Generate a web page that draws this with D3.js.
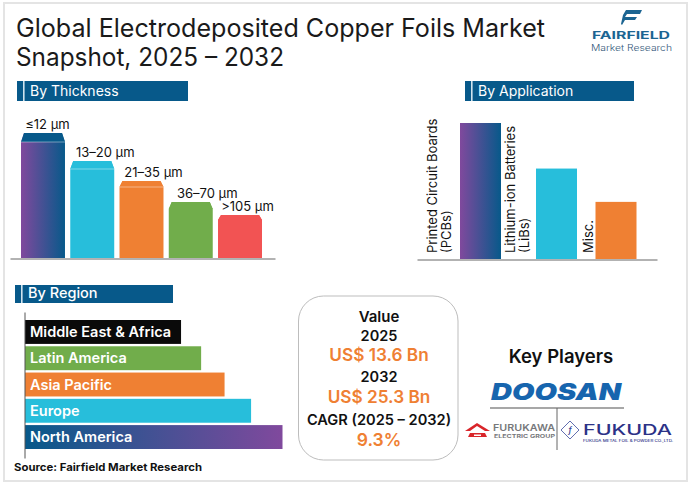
<!DOCTYPE html>
<html lang="en">
<head>
    <meta charset="UTF-8">
    <title>Electrodeposited Copper Foils Market Snapshot</title>
    <script src="https://cdnjs.cloudflare.com/ajax/libs/d3/7.8.5/d3.min.js"></script>
    <style>
        html, body { margin: 0; padding: 0; background: #fff; }
        svg { display: block; }
        text { font-family: Inter, "Open Sans", sans-serif; }
    </style>
</head>
<body>

<script>

    var titleLines = ["Global Electrodeposited Copper Foils Market", "Snapshot, 2025 \u2013 2032"];

    //Bars have no axis in the picture, so values are relative to the tallest bar (100)
    var thicknessCats = ["\u226412 \u00b5m", "13\u201320 \u00b5m", "21\u201335 \u00b5m", "36\u201370 \u00b5m", ">105 \u00b5m"];
    var thicknessVals = [100, 77.6, 61.6, 44.8, 34.4];

    var applicationCats = [["Printed Circuit Boards", "(PCBs)"], ["Lithium-ion Batteries", "(LiBs)"], ["Misc."]];
    var applicationVals = [100, 66.5, 42];

    var regionCats = ["Middle East & Africa", "Latin America", "Asia Pacific", "Europe", "North America"];
    var regionVals = [60.6, 68.4, 77.5, 87.8, 100];

    var valueLines = ["Value", "2025", "US$ 13.6 Bn", "2032", "US$ 25.3 Bn", "CAGR (2025 \u2013 2032)", "9.3%"];

    var width = 691, height = 485;
    var blue = "#07598a", cyan = "#27bedb", orange = "#ef8033", green = "#71ad4b", red = "#f25353", ink = "#111";

    var svg = d3.select("body").append("svg")
            .attr("width", width)
            .attr("height", height);

    //Gradients for the two purple/blue bars
    var defs = svg.append("defs");
    function gradient(id, from, to) {
        var g = defs.append("linearGradient").attr("id", id);
        g.append("stop").attr("offset", "0%").attr("stop-color", from);
        g.append("stop").attr("offset", "100%").attr("stop-color", to);
    }
    gradient("purpleBlue", "#80499d", blue);
    gradient("bluePurple", blue, "#80499d");

    function label(parent, x, y, str, size, weight, fill, anchor) {
        return parent.append("text")
                .attr("x", x)
                .attr("y", y)
                .attr("font-size", size)
                .attr("font-weight", weight || 400)
                .attr("fill", fill || ink)
                .attr("text-anchor", anchor || "start")
                .text(str);
    }

    //Squeeze or stretch a text to the width it has in the picture
    function fit(sel, w) {
        return sel.attr("textLength", w).attr("lengthAdjust", "spacingAndGlyphs");
    }

    //Outer frame
    svg.append("rect")
            .attr("x", 4).attr("y", 3)
            .attr("width", 683).attr("height", 478)
            .attr("fill", "none")
            .attr("stroke", "#e4e4e4")
            .attr("stroke-width", 2);

    //Title
    fit(label(svg, 16, 37, titleLines[0], 25, 400, "#1a1a1a"), 529);
    fit(label(svg, 16, 66, titleLines[1], 25, 400, "#1a1a1a"), 268);

    //Section header bars
    function sectionHeader(x, y, w, h, str, size, weight) {
        svg.append("rect").attr("x", x).attr("y", y).attr("width", w).attr("height", h).attr("fill", blue);
        svg.append("rect").attr("x", x + 6).attr("y", y).attr("width", 1.6).attr("height", h).attr("fill", "#cfe3ee");
        label(svg, x + 13, y + h - 5, str, size, weight, "#fff");
    }
    sectionHeader(17, 81, 171, 20, "By Thickness", 14, 400);
    sectionHeader(465, 81, 169, 20, "By Application", 14, 400);
    sectionHeader(15, 285, 158, 18, "By Region", 14.5, 500);

    /* ---------- By Thickness ---------- */
    var thicknessFill = ["url(#purpleBlue)", cyan, orange, green, red];
    var capFill = [blue, cyan, orange, green, red];
    var capHeight = [9, 8, 6, 7, 5];
    var labelNudge = [4.5, 13, 12, 16.5, 7.5];

    var xThick = d3.scaleBand()
            .domain(thicknessCats)
            .range([21, 262])
            .paddingInner(0.107);
    var yThick = d3.scaleLinear()
            .domain([0, 100])
            .range([258, 133]);

    var thickGroup = svg.append("g").selectAll("g")
            .data(thicknessCats)
            .enter()
            .append("g");

    //Bar with chamfered top corners
    thickGroup.append("path")
            .attr("fill", function (d, i) { return thicknessFill[i]; })
            .attr("d", function (d, i) {
                var x0 = xThick(d), x1 = x0 + xThick.bandwidth(), top = yThick(thicknessVals[i]), p = d3.path();
                p.moveTo(x0, yThick(0));
                p.lineTo(x0, top + capHeight[i]);
                p.lineTo(x0 + 3, top);
                p.lineTo(x1 - 3, top);
                p.lineTo(x1, top + capHeight[i]);
                p.lineTo(x1, yThick(0));
                p.closePath();
                return p.toString();
            });

    //Cap on top of the bar, split from the body by a thin light line
    thickGroup.append("path")
            .attr("fill", function (d, i) { return capFill[i]; })
            .attr("d", function (d, i) {
                var x0 = xThick(d), x1 = x0 + xThick.bandwidth(), top = yThick(thicknessVals[i]), p = d3.path();
                p.moveTo(x0, top + capHeight[i]);
                p.lineTo(x0 + 3, top);
                p.lineTo(x1 - 3, top);
                p.lineTo(x1, top + capHeight[i]);
                p.closePath();
                return p.toString();
            });
    thickGroup.filter(function (d, i) { return i < 3; }).append("line")
            .attr("x1", function (d) { return xThick(d); })
            .attr("x2", function (d) { return xThick(d) + xThick.bandwidth(); })
            .attr("y1", function (d, i) { return yThick(thicknessVals[i]) + capHeight[i]; })
            .attr("y2", function (d, i) { return yThick(thicknessVals[i]) + capHeight[i]; })
            .attr("stroke", "#fff")
            .attr("stroke-opacity", 0.6)
            .attr("stroke-width", 0.7);

    thickGroup.append("text")
            .attr("x", function (d, i) { return xThick(d) + xThick.bandwidth() / 2 + labelNudge[i]; })
            .attr("y", function (d, i) { return yThick(thicknessVals[i]) - 4; })
            .attr("text-anchor", "middle")
            .attr("font-size", 13)
            .attr("fill", ink)
            .text(function (d) { return d; });

    //Baseline
    svg.append("g")
            .attr("transform", "translate(0,258.5)")
            .call(d3.axisBottom(d3.scaleLinear().range([10, 275])).tickValues([]).tickSize(0))
            .select("path").attr("stroke", "#666").attr("stroke-width", 1);

    /* ---------- By Application ---------- */
    var applicationFill = ["url(#purpleBlue)", cyan, orange];
    var appLabelGap = [9, 7, 3];

    var xApp = d3.scaleOrdinal()
            .domain([0, 1, 2])
            .range([460, 536, 595.5]);
    var yApp = d3.scaleLinear()
            .domain([0, 100])
            .range([259, 123]);

    svg.append("g").selectAll("rect")
            .data(applicationVals)
            .enter()
            .append("rect")
            .attr("x", function (d, i) { return xApp(i); })
            .attr("y", function (d) { return yApp(d); })
            .attr("width", 41)
            .attr("height", function (d) { return yApp(0) - yApp(d); })
            .attr("fill", function (d, i) { return applicationFill[i]; });

    //Rotated labels sit just left of each bar, last line closest to it
    applicationCats.forEach(function (lines, i) {
        lines.forEach(function (line, j) {
            var lx = xApp(i) - appLabelGap[i] - (lines.length - 1 - j) * 14.5;
            svg.append("text")
                    .attr("transform", "translate(" + lx + ",253) rotate(-90)")
                    .attr("font-size", 13)
                    .attr("fill", ink)
                    .text(line);
        });
    });

    svg.append("g")
            .attr("transform", "translate(0,259.5)")
            .call(d3.axisBottom(d3.scaleLinear().range([417, 657])).tickValues([]).tickSize(0))
            .select("path").attr("stroke", "#666").attr("stroke-width", 1);

    /* ---------- By Region ---------- */
    var regionFill = ["#0a0a0a", green, orange, cyan, "url(#bluePurple)"];

    var yRegion = d3.scaleBand()
            .domain(regionCats)
            .range([320, 449])
            .paddingInner(0.09);
    var xRegion = d3.scaleLinear()
            .domain([0, 100])
            .range([25, 282.5]);

    var regionGroup = svg.append("g").selectAll("g")
            .data(regionCats)
            .enter()
            .append("g");

    regionGroup.append("rect")
            .attr("x", xRegion(0))
            .attr("y", function (d) { return yRegion(d); })
            .attr("width", function (d, i) { return xRegion(regionVals[i]) - xRegion(0); })
            .attr("height", yRegion.bandwidth())
            .attr("fill", function (d, i) { return regionFill[i]; });

    regionGroup.append("text")
            .attr("x", 30)
            .attr("y", function (d) { return yRegion(d) + yRegion.bandwidth() / 2 + 5; })
            .attr("font-size", 14.5)
            .attr("font-weight", 600)
            .attr("fill", "#fff")
            .text(function (d) { return d; });

    svg.append("g")
            .attr("transform", "translate(24.5,0)")
            .call(d3.axisLeft(d3.scaleLinear().range([312, 458])).tickValues([]).tickSize(0))
            .select("path").attr("stroke", "#555").attr("stroke-width", 1);

    fit(label(svg, 14, 471, "Source: Fairfield Market Research", 10.5, 700, "#111"), 188);

    /* ---------- Value box ---------- */
    svg.append("rect")
            .attr("x", 298.5).attr("y", 296)
            .attr("width", 159.5).attr("height", 164)
            .attr("rx", 25)
            .attr("fill", "#fff")
            .attr("stroke", "#bdbdbd");

    var valueY = [322, 341, 361, 382, 403, 425, 446];
    var valueSize = [15, 14.5, 17.2, 14.5, 17.2, 14.6, 17.5];
    valueLines.forEach(function (line, i) {
        var highlight = i === 2 || i === 4 || i === 6;
        label(svg, 379, valueY[i], line, valueSize[i], 600, highlight ? "#ef8033" : ink, "middle");
    });

    /* ---------- Key players ---------- */
    label(svg, 561, 363, "Key Players", 18.5, 600, ink, "middle");

    fit(label(svg, 491, 400, "DOOSAN", 23, 900, "#1765ae").attr("font-style", "italic"), 130);

    svg.append("line").attr("x1", 490).attr("x2", 624).attr("y1", 408).attr("y2", 408)
            .attr("stroke", "#8a8a8a").attr("stroke-width", 1.3);
    svg.append("line").attr("x1", 557).attr("x2", 557).attr("y1", 408).attr("y2", 450)
            .attr("stroke", "#666").attr("stroke-width", 1);

    //Furukawa logo
    svg.append("path")
            .attr("d", "M465,431 L477,423 L490,431 L485,431 L477,426 L470,431 Z M470,433 L485,433 L487,437 L468,437 Z M474,434.5 L474,436 L481,436 L481,434.5 Z")
            .attr("fill", "#d9252a")
            .attr("fill-rule", "evenodd");
    fit(label(svg, 493, 431, "FURUKAWA", 9, 600, "#77787b"), 62);
    fit(label(svg, 494, 438, "ELECTRIC GROUP", 5, 700, "#77787b"), 61);

    //Fukuda logo
    svg.append("path")
            .attr("d", "M570,421 L579,430 L570,439 L561,430 Z")
            .attr("fill", "#fff")
            .attr("stroke", "#3a4a9a")
            .attr("stroke-width", 0.8);
    label(svg, 570, 433, "f", 8, 600, "#3a4a9a", "middle").attr("font-style", "italic");
    fit(label(svg, 583, 435, "FUKUDA", 14, 500, "#2c3287"), 89);
    fit(label(svg, 583, 441.5, "FUKUDA METAL FOIL & POWDER CO.,LTD.", 3.2, 500, "#2c3287"), 90);

    /* ---------- Fairfield logo ---------- */
    svg.append("path")
            .attr("d", "M626,10 L642,10 L640,14 L627,14 L625,17 L637,17 L635,20 L625,20 L622,25 L621,24 L623,15 Z")
            .attr("fill", "#1c6592");
    fit(label(svg, 592, 39, "FAIRFIELD", 10, 700, "#1c6592"), 78);
    fit(label(svg, 591, 50.5, "Market Research", 9, 300, "#33587a"), 81);

</script>

</body>
</html>
